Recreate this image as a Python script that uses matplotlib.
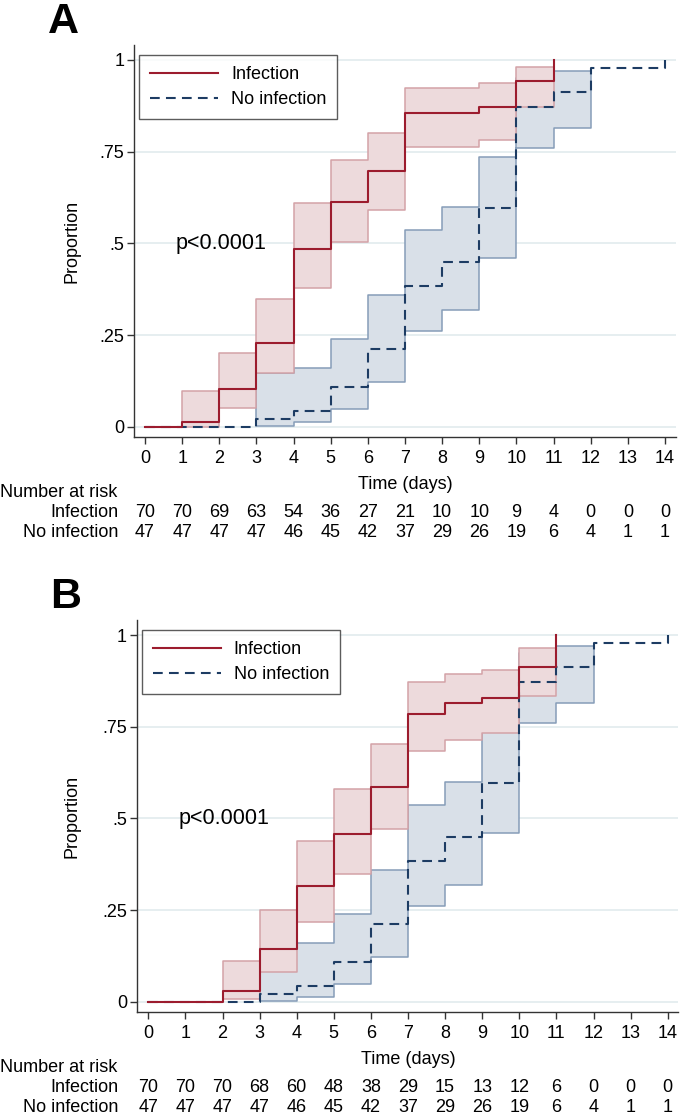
import matplotlib
matplotlib.use('Agg')
import matplotlib.pyplot as plt
from matplotlib.transforms import blended_transform_factory
from matplotlib.lines import Line2D

plt.rcParams['font.family'] = ['Liberation Sans', 'DejaVu Sans']
plt.rcParams['lines.scale_dashes'] = False

# ---------------- data ----------------
days = list(range(15))
tick_labels_y = ["0", ".25", ".5", ".75", "1"]
tick_vals_y = [0, 0.25, 0.5, 0.75, 1]

# Panel A - Infection (cumulative proportion, step function)
infA_t = [0, 1, 2, 3, 4, 5, 6, 7, 8, 9, 10, 11]
infA_y = [0, 0.014, 0.102, 0.229, 0.485, 0.614, 0.698, 0.856, 0.856, 0.871, 0.942, 1.0]
infA_band_t = [1, 2, 3, 4, 5, 6, 7, 8, 9, 10]
infA_lo = [0.0, 0.05, 0.147, 0.377, 0.503, 0.591, 0.764, 0.764, 0.782, 0.872]
infA_hi = [0.098, 0.20, 0.347, 0.609, 0.727, 0.802, 0.925, 0.925, 0.936, 0.982]

# Panel B - Infection
infB_t = [0, 1, 2, 3, 4, 5, 6, 7, 8, 9, 10, 11]
infB_y = [0, 0, 0.03, 0.143, 0.315, 0.456, 0.585, 0.785, 0.814, 0.827, 0.912, 1.0]
infB_band_t = [2, 3, 4, 5, 6, 7, 8, 9, 10]
infB_lo = [0.006, 0.082, 0.218, 0.348, 0.472, 0.684, 0.714, 0.732, 0.834]
infB_hi = [0.112, 0.25, 0.439, 0.58, 0.702, 0.871, 0.894, 0.905, 0.964]

# No infection (identical in both panels)
noinf_t = [0, 1, 2, 3, 4, 5, 6, 7, 8, 9, 10, 11, 12, 13, 14]
noinf_y = [0, 0, 0, 0.022, 0.044, 0.107, 0.213, 0.383, 0.448, 0.596, 0.872, 0.914, 0.979, 0.979, 1.0]
noinf_band_t = [3, 4, 5, 6, 7, 8, 9, 10, 11]
noinf_lo = [0.003, 0.014, 0.048, 0.123, 0.262, 0.318, 0.459, 0.76, 0.814]
noinf_hi = [0.146, 0.159, 0.238, 0.359, 0.536, 0.60, 0.735, 0.95, 0.971]

# Number at risk
riskA_inf = [70, 70, 69, 63, 54, 36, 27, 21, 10, 10, 9, 4, 0, 0, 0]
riskA_noinf = [47, 47, 47, 47, 46, 45, 42, 37, 29, 26, 19, 6, 4, 1, 1]
riskB_inf = [70, 70, 70, 68, 60, 48, 38, 29, 15, 13, 12, 6, 0, 0, 0]
riskB_noinf = [47, 47, 47, 47, 46, 45, 42, 37, 29, 26, 19, 6, 4, 1, 1]

# ---------------- style ----------------
W, H = 680, 1114
RED = '#9c1c2e'
RED_FILL = '#eddadc'
RED_EDGE = '#d3a2a7'
BLUE = '#1d3c63'
BLUE_FILL = '#d9e0e8'
BLUE_EDGE = '#869db8'
GRID = '#e6eef0'
SPINE = '#333333'
FS = 13

fig = plt.figure(figsize=(W / 100, H / 100), dpi=100)


def fx(px):
    return px / W


def fy(px):
    return 1 - px / H


def band(ax, t, lo, hi, face, edge):
    x = list(t) + [t[-1] + 1]
    lo2 = list(lo) + [lo[-1]]
    hi2 = list(hi) + [hi[-1]]
    ax.fill_between(x, lo2, hi2, step='post', facecolor=face,
                    edgecolor=edge, linewidth=1.1, zorder=2)


def panel(letter, left, right, bottom, top, x0, xpd, y0, ypu,
          inf_t, inf_y, inf_bt, inf_lo, inf_hi, risk_inf, risk_noinf):
    ax = fig.add_axes([fx(left), fy(bottom), fx(right - left), (bottom - top) / H])
    ax.set_xlim(-(x0 - left) / xpd, (right - x0) / xpd)
    ax.set_ylim(-(bottom - y0) / ypu, (y0 - top) / ypu)

    band(ax, noinf_band_t, noinf_lo, noinf_hi, BLUE_FILL, BLUE_EDGE)
    band(ax, inf_bt, inf_lo, inf_hi, RED_FILL, RED_EDGE)
    ax.step(noinf_t, noinf_y, where='post', color=BLUE, lw=1.5,
            dashes=(7, 4.5), zorder=3)
    ax.step(inf_t, inf_y, where='post', color=RED, lw=1.5, zorder=4)

    ax.set_xticks(days)
    ax.set_xticklabels([str(d) for d in days])
    ax.set_yticks(tick_vals_y)
    ax.set_yticklabels(tick_labels_y)
    ax.tick_params(axis='both', labelsize=FS, length=5, width=1.0,
                   color=SPINE, direction='out')
    ax.tick_params(axis='x', pad=4)
    ax.tick_params(axis='y', pad=2)
    for s in ['top', 'right']:
        ax.spines[s].set_visible(False)
    for s in ['left', 'bottom']:
        ax.spines[s].set_color(SPINE)
        ax.spines[s].set_linewidth(1.0)
    ax.yaxis.grid(True, color=GRID, lw=1.4)
    ax.set_axisbelow(True)
    ax.set_ylabel('Proportion', fontsize=FS)
    ax.yaxis.set_label_coords((81 - left) / (right - left), 0.5)

    ax.text(0.82, 0.5, 'p<0.0001', fontsize=15.5, ha='left', va='center', zorder=5)

    handles = [Line2D([], [], color=RED, lw=1.5),
               Line2D([], [], color=BLUE, lw=1.5, dashes=(7, 4.5))]
    leg = ax.legend(handles, ['Infection', 'No infection'], loc='upper left',
                    bbox_to_anchor=(fx(left + 5), fy(top + 10)),
                    bbox_transform=fig.transFigure, borderaxespad=0,
                    fontsize=FS, frameon=True, fancybox=False,
                    edgecolor=SPINE, handlelength=3.8, handletextpad=0.7,
                    labelspacing=0.45, borderpad=0.6)
    leg.get_frame().set_linewidth(1.0)

    # panel letter
    fig.text(fx(left - 71), fy(top - 12), letter, fontsize=31,
             fontweight='bold', ha='center', va='baseline')

    # x axis title and number at risk table
    tr = blended_transform_factory(ax.transData, fig.transFigure)
    fig.text(7, fy(bottom + 52), 'Time (days)', transform=tr, ha='center',
             va='baseline', fontsize=FS)
    fig.text(0, fy(bottom + 59.5), 'Number at risk', ha='left',
             va='baseline', fontsize=FS)
    fig.text(fx(118), fy(bottom + 79.5), 'Infection', ha='right',
             va='baseline', fontsize=FS)
    fig.text(fx(118), fy(bottom + 99.5), 'No infection', ha='right',
             va='baseline', fontsize=FS)
    for d, a, b in zip(days, risk_inf, risk_noinf):
        fig.text(d, fy(bottom + 79.5), str(a), transform=tr, ha='center',
                 va='baseline', fontsize=FS)
        fig.text(d, fy(bottom + 99.5), str(b), transform=tr, ha='center',
                 va='baseline', fontsize=FS)
    return ax


panel('A', 134, 676, 437.3, 45, 145, 37.14, 426.7, 366.7,
      infA_t, infA_y, infA_band_t, infA_lo, infA_hi, riskA_inf, riskA_noinf)
panel('B', 136.7, 678, 1012.3, 620, 148.3, 37.1, 1001.7, 366.7,
      infB_t, infB_y, infB_band_t, infB_lo, infB_hi, riskB_inf, riskB_noinf)

fig.savefig('out.png', dpi=100)
